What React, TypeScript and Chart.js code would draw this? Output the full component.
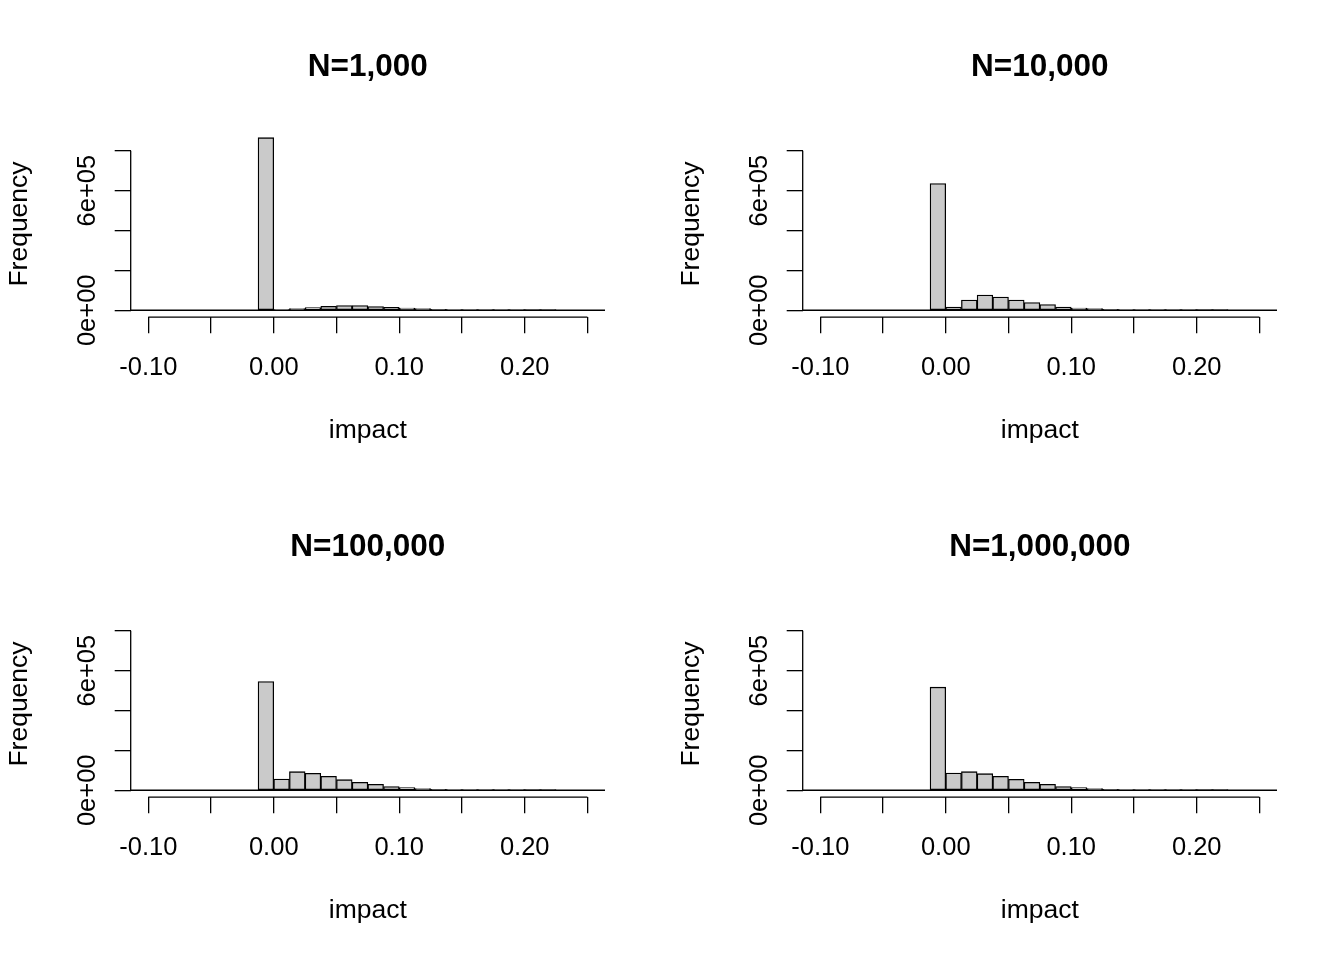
import React, { useEffect, useRef } from 'react';
import { Chart, registerables } from 'chart.js';

Chart.register(...registerables);

// Histogram bin centres (bin width 0.0125)
const BIN_MIDS = [
  -0.11875, -0.10625, -0.09375, -0.08125, -0.06875, -0.05625, -0.04375, -0.03125,
  -0.01875, -0.00625, 0.00625, 0.01875, 0.03125, 0.04375, 0.05625, 0.06875,
  0.08125, 0.09375, 0.10625, 0.11875, 0.13125, 0.14375, 0.15625, 0.16875,
  0.18125, 0.19375, 0.20625, 0.21875, 0.23125, 0.24375, 0.25625, 0.26875,
];

const COUNTS_N1K = [
  0, 0, 0, 0, 0, 0, 0, 0, 0,
  865000, 3500, 8000, 13500, 20000, 23500, 23500, 19000, 15000, 11000, 8000,
  5000, 3000, 1500, 800, 400, 200, 100, 50, 0, 0, 0, 0,
];
const COUNTS_N10K = [
  0, 0, 0, 0, 0, 0, 0, 0, 0,
  635000, 16700, 51700, 76700, 66700, 51700, 38300, 28300, 16700, 11700, 8300,
  5000, 3300, 1800, 1000, 500, 250, 120, 60, 0, 0, 0, 0,
];
const COUNTS_N100K = [
  0, 0, 0, 0, 0, 0, 0, 0, 0,
  545000, 56700, 93300, 85000, 70000, 53300, 40000, 30000, 18300, 13300, 8300,
  5000, 3300, 1800, 1000, 500, 250, 120, 60, 0, 0, 0, 0,
];
const COUNTS_N1M = [
  0, 0, 0, 0, 0, 0, 0, 0, 0,
  516700, 86700, 93300, 83300, 70000, 55000, 40000, 30000, 18300, 13300, 8300,
  5000, 3300, 1800, 1000, 500, 250, 120, 60, 0, 0, 0, 0,
];

const PANEL_TITLES = ['N=1,000', 'N=10,000', 'N=100,000', 'N=1,000,000'];
const PANEL_COUNTS = [COUNTS_N1K, COUNTS_N10K, COUNTS_N100K, COUNTS_N1M];

const X_TICKS = [-0.1, -0.05, 0, 0.05, 0.1, 0.15, 0.2, 0.25];
const X_TICK_LABELS = ['-0.10', '', '0.00', '', '0.10', '', '0.20', ''];
const Y_TICKS = [0, 200000, 400000, 600000, 800000];
const Y_TICK_LABELS = ['0e+00', '', '', '6e+05', ''];

const X_LIMITS = [-0.114, 0.264];
const Y_LIM_TOP = 865000;

const X_LABEL = 'impact';
const Y_LABEL = 'Frequency';

const FONT_FAMILY = '"Liberation Sans", Arial, Helvetica, sans-serif';
const BAR_FILL = '#CACACA';

const PANEL_W = 672;
const PANEL_H = 480;

const rAxesPlugin = {
  id: 'rAxes',
  afterDatasetsDraw(chart: any) {
    // baseline of the histogram (outline of empty bins), clipped to plot region
    const { ctx, chartArea } = chart;
    const ys = chart.scales.y;
    const y0 = ys.getPixelForValue(0);
    ctx.save();
    ctx.strokeStyle = '#000';
    ctx.lineWidth = 1.4;
    ctx.beginPath();
    ctx.moveTo(chartArea.left, y0);
    ctx.lineTo(chartArea.right, y0);
    ctx.stroke();
    ctx.restore();
  },
  afterDraw(chart: any) {
    const { ctx, chartArea } = chart;
    const xs = chart.scales.x;
    const ys = chart.scales.y;
    ctx.save();
    ctx.strokeStyle = '#000';
    ctx.lineWidth = 1.3;
    ctx.beginPath();
    ctx.moveTo(xs.getPixelForValue(X_TICKS[0]), chartArea.bottom);
    ctx.lineTo(xs.getPixelForValue(X_TICKS[X_TICKS.length - 1]), chartArea.bottom);
    ctx.moveTo(chartArea.left, ys.getPixelForValue(Y_TICKS[0]));
    ctx.lineTo(chartArea.left, ys.getPixelForValue(Y_TICKS[Y_TICKS.length - 1]));
    ctx.stroke();
    ctx.restore();
  },
};

function Panel({ title, counts, left, top }: { title: string; counts: number[]; left: number; top: number }) {
  const ref = useRef<HTMLCanvasElement | null>(null);

  useEffect(() => {
    if (!ref.current) return;
    const gridOpts = {
      display: true,
      drawOnChartArea: false,
      drawTicks: true,
      tickLength: 16,
      color: '#000',
      lineWidth: 1.3,
      offset: false,
    };
    const chart = new Chart(ref.current, {
      type: 'bar',
      data: {
        datasets: [
          {
            // empty bins are shown only by the baseline
            data: BIN_MIDS.map((m, i) => ({ x: m, y: counts[i] === 0 ? null : counts[i] })),
            backgroundColor: BAR_FILL,
            borderColor: '#000',
            borderWidth: 1.3,
            borderSkipped: false,
            barPercentage: 1,
            categoryPercentage: 1,
          } as any,
        ],
      },
      options: {
        animation: false,
        responsive: false,
        events: [],
        layout: { padding: { left: 0, right: 67, top: 0, bottom: 0 } },
        plugins: {
          legend: { display: false },
          tooltip: { enabled: false },
          title: {
            display: true,
            text: title,
            fullSize: false,
            color: '#000',
            font: { family: FONT_FAMILY, size: 31.5, weight: 'bold', lineHeight: 1.2 },
            padding: { top: 48.6, bottom: 44.4 },
          },
        },
        scales: {
          x: {
            type: 'linear',
            min: X_LIMITS[0],
            max: X_LIMITS[1],
            offset: false,
            afterBuildTicks: (s: any) => {
              s.ticks = X_TICKS.map((v) => ({ value: v }));
            },
            afterFit: (s: any) => {
              s.height = 162.8;
            },
            grid: gridOpts,
            border: { display: false },
            ticks: {
              autoSkip: false,
              minRotation: 0,
              maxRotation: 0,
              color: '#000',
              padding: 22,
              font: { family: FONT_FAMILY, size: 25.5, lineHeight: 1 },
              callback: (_v: any, i: number) => X_TICK_LABELS[i],
            },
            title: {
              display: true,
              text: X_LABEL,
              color: '#000',
              font: { family: FONT_FAMILY, size: 26.5, lineHeight: 1 },
              padding: { top: 0, bottom: 35.8 },
            },
          },
          y: {
            type: 'linear',
            min: -0.04 * Y_LIM_TOP,
            max: 1.04 * Y_LIM_TOP,
            afterBuildTicks: (s: any) => {
              s.ticks = Y_TICKS.map((v) => ({ value: v }));
            },
            afterFit: (s: any) => {
              s.width = 130.7;
            },
            grid: gridOpts,
            border: { display: false },
            ticks: {
              autoSkip: false,
              minRotation: 90,
              maxRotation: 90,
              crossAlign: 'center',
              color: '#000',
              padding: -9.5,
              font: { family: FONT_FAMILY, size: 25.5, lineHeight: 1 },
              callback: (_v: any, i: number) => Y_TICK_LABELS[i],
            },
            title: {
              display: true,
              text: Y_LABEL,
              color: '#000',
              font: { family: FONT_FAMILY, size: 26.5, lineHeight: 1 },
              padding: { top: 6.8, bottom: 0 },
            },
          },
        },
      } as any,
      plugins: [rAxesPlugin],
    });
    return () => chart.destroy();
  }, [title, counts]);

  return (
    <canvas
      ref={ref}
      width={PANEL_W}
      height={PANEL_H}
      style={{ position: 'absolute', left, top, width: PANEL_W, height: PANEL_H, display: 'block' }}
    />
  );
}

export default function App() {
  return (
    <div
      style={{
        position: 'absolute',
        left: 0,
        top: 0,
        width: PANEL_W * 2,
        height: PANEL_H * 2,
        background: '#fff',
      }}
    >
      {PANEL_TITLES.map((t, i) => (
        <Panel
          key={t}
          title={t}
          counts={PANEL_COUNTS[i]}
          left={(i % 2) * PANEL_W}
          top={Math.floor(i / 2) * PANEL_H}
        />
      ))}
    </div>
  );
}
